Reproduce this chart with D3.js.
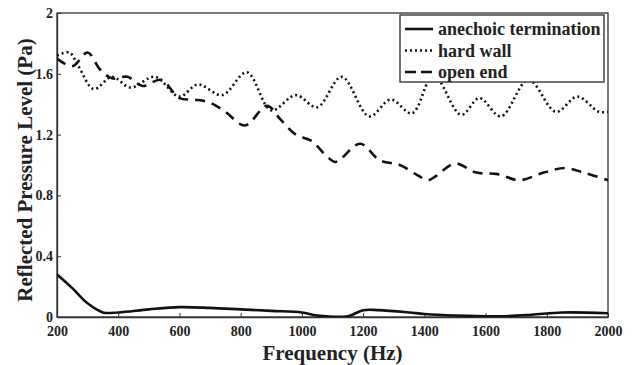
<!DOCTYPE html>
<html>
<head>
<meta charset="utf-8">
<script src="https://cdn.jsdelivr.net/npm/d3@7"></script>
<style>
  body { margin: 0; background: #fff; }
</style>
</head>
<body>
<div id="chart"></div>
<script>
// Data
const xTicks = [200, 400, 600, 800, 1000, 1200, 1400, 1600, 1800, 2000];
const yTicks = [0, 0.4, 0.8, 1.2, 1.6, 2];

const anechoicFreq = [200, 250, 300, 350, 400, 500, 600, 700, 800, 900, 1000, 1050, 1150, 1200, 1250, 1350, 1400, 1500, 1650, 1750, 1850, 2000];
const anechoic     = [0.28, 0.19, 0.09, 0.03, 0.03, 0.05, 0.065, 0.06, 0.05, 0.04, 0.03, 0.01, 0.005, 0.045, 0.045, 0.03, 0.02, 0.01, 0.005, 0.015, 0.03, 0.025];

const hardFreq = [200, 240, 270, 320, 380, 440, 520, 600, 660, 740, 820, 900, 980, 1050, 1130, 1220, 1290, 1360, 1430, 1520, 1580, 1650, 1740, 1830, 1900, 1970, 2000];
const hardWall = [1.72, 1.74, 1.65, 1.50, 1.58, 1.51, 1.58, 1.45, 1.53, 1.46, 1.61, 1.36, 1.46, 1.38, 1.58, 1.32, 1.43, 1.34, 1.59, 1.33, 1.44, 1.32, 1.56, 1.35, 1.45, 1.35, 1.35];

const openFreq = [200, 250, 300, 340, 380, 430, 480, 540, 600, 650, 700, 750, 814, 886, 930, 980, 1030, 1080, 1110, 1190, 1255, 1320, 1380, 1412, 1440, 1500, 1570, 1640, 1710, 1790, 1860, 1920, 2000];
const openEnd  = [1.70, 1.65, 1.74, 1.63, 1.57, 1.58, 1.52, 1.56, 1.44, 1.43, 1.41, 1.35, 1.26, 1.39, 1.30, 1.20, 1.16, 1.06, 1.02, 1.14, 1.03, 1.00, 0.93, 0.90, 0.93, 1.01, 0.95, 0.94, 0.90, 0.95, 0.98, 0.95, 0.90];

const series = [
  { name: "anechoic termination", freq: anechoicFreq, values: anechoic, dash: null },
  { name: "hard wall", freq: hardFreq, values: hardWall, dash: "2,3" },
  { name: "open end", freq: openFreq, values: openEnd, dash: "10,7" }
];

const serif = "'Liberation Serif', 'Times New Roman', Times, 'DejaVu Serif', serif";

const width = 633, height = 365;
const margin = { top: 13, right: 25, bottom: 48, left: 57 };
const innerW = width - margin.left - margin.right;
const innerH = height - margin.top - margin.bottom;

const svg = d3.select("#chart").append("svg")
  .attr("width", width)
  .attr("height", height);

const g = svg.append("g").attr("transform", `translate(${margin.left},${margin.top})`);

const x = d3.scaleLinear().domain([200, 2000]).range([0, innerW]);
const y = d3.scaleLinear().domain([0, 2]).range([innerH, 0]);

g.append("defs").append("clipPath").attr("id", "clip")
  .append("rect").attr("width", innerW).attr("height", innerH);

// axes, ticks pointing inward
const xAxis = g.append("g")
  .attr("transform", `translate(0,${innerH})`)
  .call(d3.axisBottom(x).tickValues(xTicks).tickSizeInner(-4).tickSizeOuter(0).tickPadding(9).tickFormat(d3.format("d")));
const yAxis = g.append("g")
  .call(d3.axisLeft(y).tickValues(yTicks).tickSizeInner(-4).tickSizeOuter(0).tickPadding(4).tickFormat(d => d));

[xAxis, yAxis].forEach(a => {
  a.attr("font-family", serif).attr("font-weight", "bold").attr("font-size", 14);
  a.selectAll("text").attr("fill", "#222");
  a.selectAll("line").attr("stroke", "#333");
  a.select(".domain").attr("stroke", "#333").attr("stroke-width", 1.3);
});

// frame
g.append("rect")
  .attr("width", innerW).attr("height", innerH)
  .attr("fill", "none").attr("stroke", "#333").attr("stroke-width", 1.3);

const line = d3.line()
  .x(d => x(d[0]))
  .y(d => y(d[1]))
  .curve(d3.curveCatmullRom.alpha(0.5));

g.append("g").attr("clip-path", "url(#clip)")
  .selectAll("path")
  .data(series)
  .enter()
  .append("path")
  .attr("d", s => line(s.freq.map((f, i) => [f, s.values[i]])))
  .attr("fill", "none")
  .attr("stroke", "#111")
  .attr("stroke-width", 2.6)
  .attr("stroke-dasharray", s => s.dash);

// legend
const lg = svg.append("g").attr("transform", "translate(400,15)");
lg.append("rect")
  .attr("width", 204).attr("height", 67)
  .attr("fill", "#fff").attr("stroke", "#444").attr("stroke-width", 1.5);

const rows = lg.selectAll(".row")
  .data(series)
  .enter()
  .append("g")
  .attr("class", "row")
  .attr("transform", (d, i) => `translate(0,${14 + i * 21.5})`);

rows.append("line")
  .attr("x1", 5).attr("x2", 33)
  .attr("stroke", "#111").attr("stroke-width", 2.6)
  .attr("stroke-dasharray", d => d.dash === "10,7" ? "11,5" : d.dash);

rows.append("text")
  .attr("x", 38).attr("y", 6)
  .attr("font-family", serif).attr("font-weight", "bold").attr("font-size", 18)
  .attr("fill", "#222")
  .text(d => d.name);

// axis titles
svg.append("text")
  .attr("x", margin.left + innerW / 2).attr("y", 360)
  .attr("text-anchor", "middle")
  .attr("font-family", serif).attr("font-weight", "bold").attr("font-size", 21)
  .attr("fill", "#222")
  .text("Frequency (Hz)");

svg.append("text")
  .attr("transform", "translate(32,170) rotate(-90)")
  .attr("text-anchor", "middle")
  .attr("font-family", serif).attr("font-weight", "bold").attr("font-size", 21)
  .attr("fill", "#222")
  .text("Reflected Pressure Level (Pa)");
</script>
</body>
</html>
